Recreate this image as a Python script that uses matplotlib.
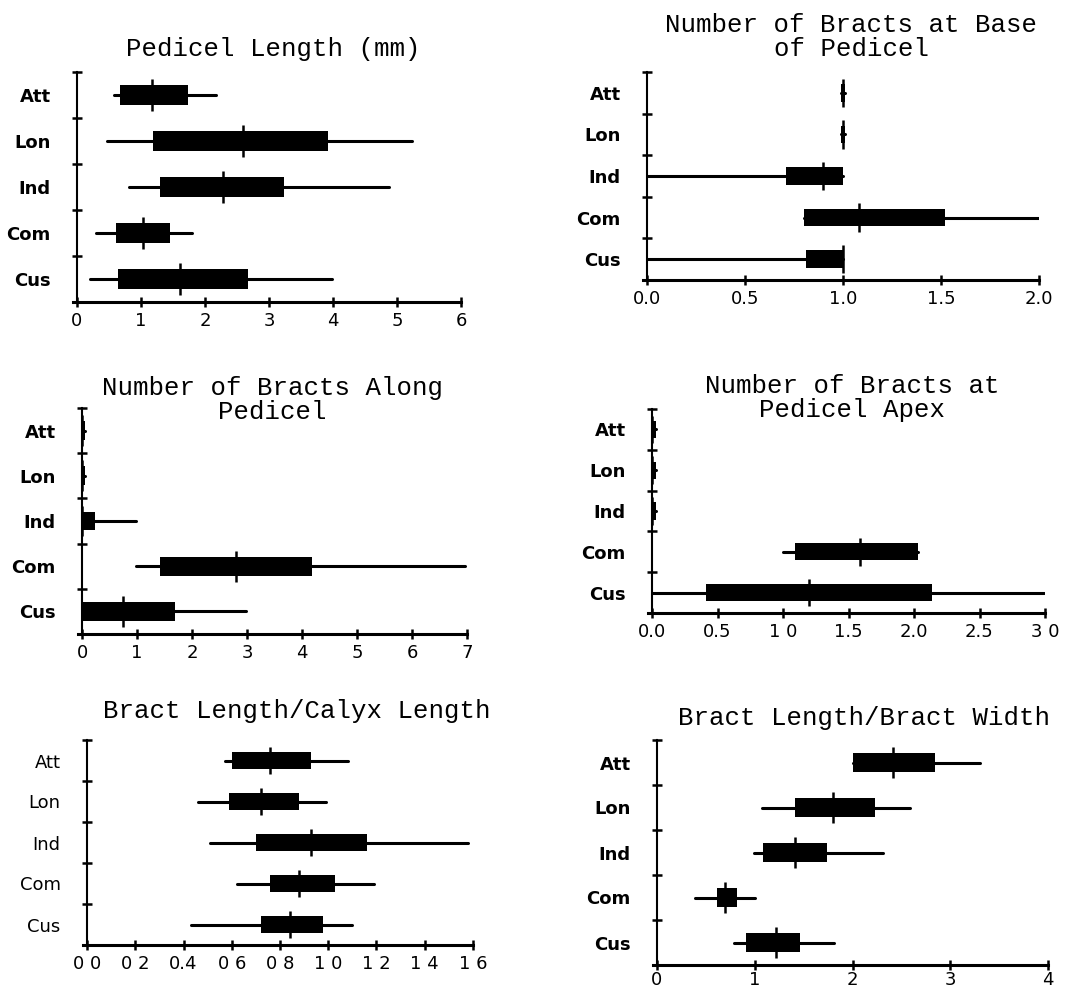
import matplotlib
matplotlib.use('Agg')
import matplotlib.pyplot as plt
import numpy as np

''' Taxa, top to bottom '''
taxa = ['Att', 'Lon', 'Ind', 'Com', 'Cus']

''' Rows follow taxa; columns are min, q1, median, q3, max '''
pedicel_length = [
    [0.58, 0.67, 1.17, 1.74, 2.17],
    [0.47, 1.18, 2.59, 3.92, 5.24],
    [0.81, 1.30, 2.28, 3.23, 4.87],
    [0.29, 0.61, 1.03, 1.46, 1.80],
    [0.20, 0.64, 1.61, 2.67, 3.99],
]
bracts_base = [
    [0.99, 0.99, 1.00, 1.01, 1.01],
    [0.99, 0.99, 1.00, 1.01, 1.01],
    [0.00, 0.71, 0.90, 1.00, 1.00],
    [0.80, 0.80, 1.08, 1.52, 2.00],
    [0.00, 0.81, 1.00, 1.00, 1.00],
]
bracts_along = [
    [0.00, 0.00, 0.00, 0.05, 0.05],
    [0.00, 0.00, 0.00, 0.05, 0.05],
    [0.00, 0.00, 0.00, 0.23, 0.98],
    [0.99, 1.41, 2.80, 4.18, 6.97],
    [0.00, 0.00, 0.75, 1.69, 2.99],
]
bracts_apex = [
    [0.00, 0.00, 0.00, 0.03, 0.03],
    [0.00, 0.00, 0.00, 0.03, 0.03],
    [0.00, 0.00, 0.00, 0.03, 0.03],
    [1.00, 1.09, 1.59, 2.03, 2.03],
    [0.00, 0.41, 1.20, 2.14, 2.99],
]
bract_calyx = [
    [0.57, 0.60, 0.76, 0.93, 1.08],
    [0.46, 0.59, 0.72, 0.88, 0.99],
    [0.51, 0.70, 0.93, 1.16, 1.58],
    [0.62, 0.76, 0.88, 1.03, 1.19],
    [0.43, 0.72, 0.84, 0.98, 1.10],
]
bract_lw = [
    [2.00, 2.00, 2.41, 2.84, 3.30],
    [1.07, 1.41, 1.80, 2.23, 2.59],
    [0.99, 1.08, 1.41, 1.74, 2.31],
    [0.39, 0.61, 0.70, 0.82, 1.00],
    [0.79, 0.91, 1.22, 1.46, 1.81],
]

''' x ticks and their labels (as printed) '''
pedicel_ticks = [0, 1, 2, 3, 4, 5, 6]
pedicel_labels = ['0', '1', '2', '3', '4', '5', '6']
base_ticks = [0, 0.5, 1.0, 1.5, 2.0]
base_labels = ['0.0', '0.5', '1.0', '1.5', '2.0']
along_ticks = [0, 1, 2, 3, 4, 5, 6, 7]
along_labels = ['0', '1', '2', '3', '4', '5', '6', '7']
apex_ticks = [0, 0.5, 1.0, 1.5, 2.0, 2.5, 3.0]
apex_labels = ['0.0', '0.5', '1 0', '1.5', '2.0', '2.5', '3 0']
calyx_ticks = [0, 0.2, 0.4, 0.6, 0.8, 1.0, 1.2, 1.4, 1.6]
calyx_labels = ['0 0', '0 2', '0.4', '0 6', '0 8', '1 0', '1 2', '1 4', '1 6']
lw_ticks = [0, 1, 2, 3, 4]
lw_labels = ['0', '1', '2', '3', '4']

W, H = 1077, 992
fig = plt.figure(figsize=(W / 100, H / 100), dpi=100)
fig.patch.set_facecolor('white')

# (data, ticks, labels, title, (yaxis_x, top_y, right_x, bottom_y) px,
#  (title_cx, last baseline) px, bold labels, x label pad)
panels = [
    (pedicel_length, pedicel_ticks, pedicel_labels, 'Pedicel Length (mm)',
     (77, 72, 461, 302), (273, 56), True, 4),
    (bracts_base, base_ticks, base_labels, 'Number of Bracts at Base\nof Pedicel',
     (647, 72, 1039, 280), (851, 56), True, 4),
    (bracts_along, along_ticks, along_labels, 'Number of Bracts Along\nPedicel',
     (82, 408, 467, 634), (272, 419), True, 4),
    (bracts_apex, apex_ticks, apex_labels, 'Number of Bracts at\nPedicel Apex',
     (652, 409, 1045, 613), (852, 417), True, 4),
    (bract_calyx, calyx_ticks, calyx_labels, 'Bract Length/Calyx Length',
     (87, 740, 473, 945), (297, 718), False, 4),
    (bract_lw, lw_ticks, lw_labels, 'Bract Length/Bract Width',
     (657, 740, 1048, 965), (864, 725), True, 1),
]

ext = 4  # x axis sticks out a little left of the y axis

for data, ticks, labels, title, box, tpos, bold, xpad in panels:
    yx, top, rx, bot = box
    ax = fig.add_axes([(yx - ext) / W, 1 - bot / H, (rx - yx + ext) / W, (bot - top) / H])
    d = np.array(data)
    xmax = ticks[-1]
    ax.set_xlim(-ext / (rx - yx) * xmax, xmax)
    ax.set_ylim(0, len(taxa))
    y = np.arange(len(taxa))[::-1] + 0.5

    wh = ax.hlines(y, d[:, 0], d[:, 4], color='k', lw=2.2)
    wh.set_capstyle('round')
    ax.barh(y, d[:, 3] - d[:, 1], left=d[:, 1], height=0.42, color='k')
    ax.vlines(d[:, 2], y - 0.34, y + 0.34, color='k', lw=1.8)

    for s in ['top', 'right']:
        ax.spines[s].set_visible(False)
    ax.spines['left'].set_position(('data', 0))
    ax.spines['left'].set_linewidth(1.5)
    ax.spines['bottom'].set_linewidth(2.2)

    ax.set_yticks(np.arange(1, len(taxa) + 1))
    ax.set_yticklabels([])
    ax.set_yticks(y, minor=True)
    ax.set_yticklabels(taxa, minor=True, fontsize=13,
                       fontweight='bold' if bold else 'normal')
    ax.tick_params(axis='y', which='major', direction='inout', length=7, width=1.8)
    ax.tick_params(axis='y', which='minor', length=0, pad=19)

    ax.set_xticks(ticks)
    ax.set_xticklabels(labels, fontsize=13)
    ax.tick_params(axis='x', direction='inout', length=7, width=1.8, pad=xpad)

    fig.text(tpos[0] / W, 1 - tpos[1] / H, title, ha='center', va='baseline',
             family='Liberation Mono', fontsize=18.5, linespacing=1.0)

fig.savefig('out.png', dpi=100, facecolor='white')
